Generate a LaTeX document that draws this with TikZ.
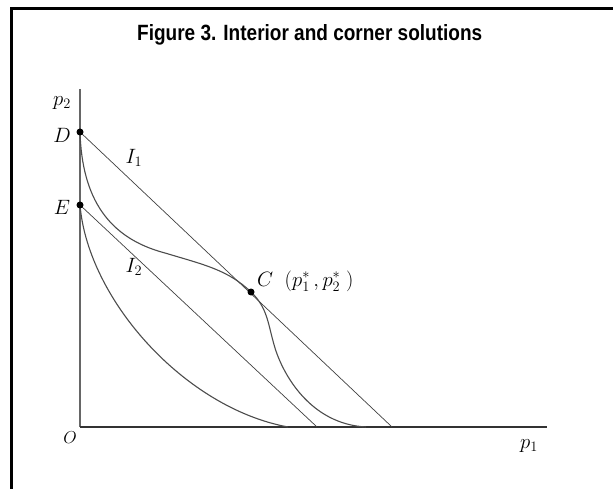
\documentclass[tikz,border=0pt]{standalone}
\usepackage{graphicx}
\usepackage{fontspec}
\newfontfamily\titlefont{Liberation Sans Bold}
\begin{document}
\begin{tikzpicture}[x=1pt,y=-1pt,
  frameline/.style={line width=2.2pt,black},
  axisline/.style={line width=1.5pt,black!60},
  xaxisline/.style={line width=1.2pt,black!80},
  budget/.style={line width=0.7pt,black!75},
  icurve/.style={line width=1.1pt,black!70},
  dotpt/.style={circle,fill=black,inner sep=0pt,minimum size=7pt},
  lab/.style={font=\fontsize{20.74}{23}\selectfont,inner sep=0pt},
  ]
\useasboundingbox (0,0) rectangle (613,489);
% frame
\draw[frameline] (11.5,489) -- (11.5,8.5) -- (613,8.5);
% title
\node[inner sep=0pt,anchor=base west] (title) at (137,41) {\resizebox{345pt}{16pt}{\titlefont Figure 3. Interior and corner solutions}};
% axes
\coordinate (O) at (80,427);
\coordinate (Ytop) at (80,89);
\coordinate (Xend) at (547,427);
\draw[axisline] (Ytop) -- (O);
\draw[xaxisline] (O) -- (Xend);
% key points
\coordinate (D) at (80,132);
\coordinate (E) at (80,205);
\coordinate (C) at (251,292);
\coordinate (L1) at (392,427);
\coordinate (L2) at (317,427);
\coordinate (Q1) at (366,427);
\coordinate (Q2) at (288,427);
\coordinate (M1) at (165,253);
\coordinate (M2) at (275,348);
% budget lines
\draw[budget] (D) -- (L1);
\draw[budget] (E) -- (L2);
% indifference curves
\draw[icurve] (D) .. controls (82,198) and (108,238) .. (M1)
  .. controls (205,265) and (228,270) .. (C)
  .. controls (268,308) and (268,325) .. (M2)
  .. controls (283,374) and (310,424) .. (Q1);
\draw[icurve] (E) .. controls (88,300) and (185,408) .. (Q2);
% dots
\node[dotpt] (Dd) at (D) {};
\node[dotpt] (Ed) at (E) {};
\node[dotpt] (Cd) at (C) {};
% labels
\node[lab] (p2) at (62,103) {$p_2$};
\node[lab] (Dl) at (62,135) {$D$};
\node[lab] (El) at (62,207) {$E$};
\node[lab] (I1) at (134,158) {$I_1$};
\node[lab] (I2) at (134,267) {$I_2$};
\node[lab,anchor=west] (Cl) at (257,281) {$C\;\;(p_1^*\,,p_2^*\;)$};
\node[lab,font=\fontsize{17.28}{19}\selectfont] (Ol) at (70,438) {$O$};
\node[lab] (p1) at (529,446) {$p_1$};
\end{tikzpicture}
\end{document}
